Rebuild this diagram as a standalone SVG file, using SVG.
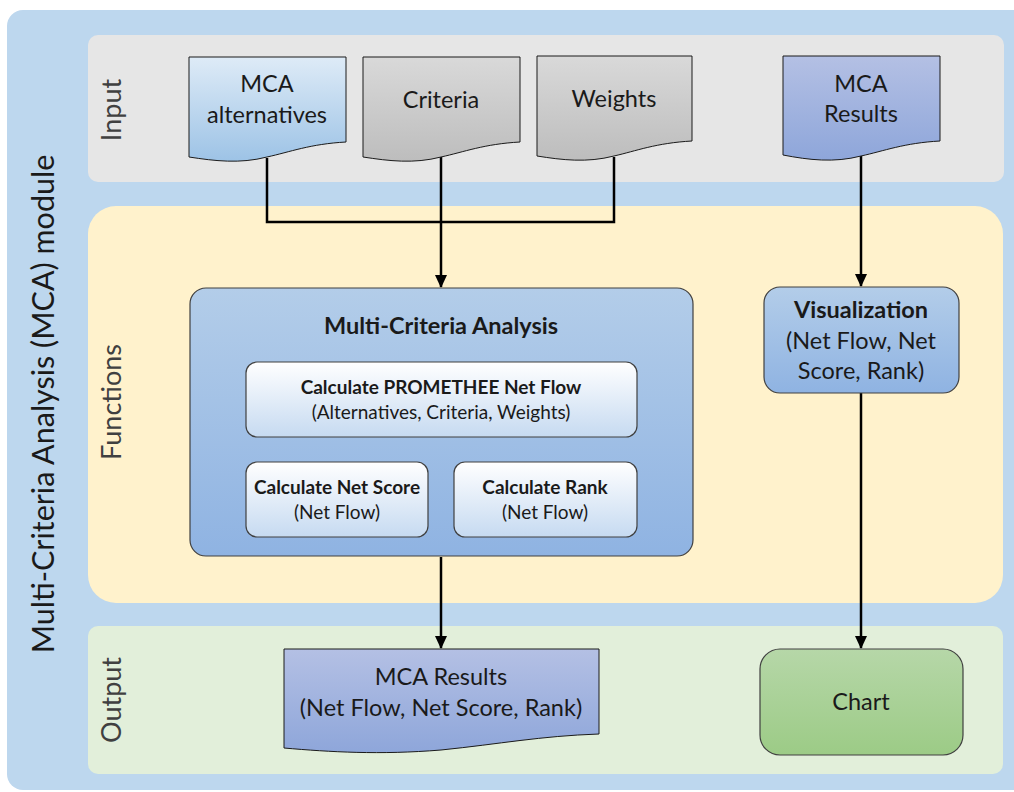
<svg xmlns="http://www.w3.org/2000/svg" width="1014" height="792" viewBox="0 0 1014 792">
<style>
text{font-family:Lato,"Open Sans","Liberation Sans",sans-serif;fill:#1a1a1a;text-anchor:middle}
.lane{font-size:27px;fill:#404040}
.t20{font-size:23.5px}
.t16{font-size:19px}
.b{font-weight:bold}
.doc{stroke:#1a1a1a;stroke-width:1}
.box{stroke:#404040;stroke-width:1.2}
.conn{fill:none;stroke:#000;stroke-width:2.5}
</style>
<defs>
<linearGradient id="gBlueLt" x1="0" y1="0" x2="0" y2="1"><stop offset="0" stop-color="#deebf7"/><stop offset="1" stop-color="#9dc3e6"/></linearGradient>
<linearGradient id="gGray" x1="0" y1="0" x2="0" y2="1"><stop offset="0" stop-color="#d9d9d9"/><stop offset="1" stop-color="#bdbdbd"/></linearGradient>
<linearGradient id="gPurp" x1="0" y1="0" x2="0" y2="1"><stop offset="0" stop-color="#b4c0e4"/><stop offset="1" stop-color="#8ea6da"/></linearGradient>
<linearGradient id="gBlue" x1="0" y1="0" x2="0" y2="1"><stop offset="0" stop-color="#b3cde9"/><stop offset="1" stop-color="#8fb3e2"/></linearGradient>
<linearGradient id="gWhite" x1="0" y1="0" x2="0" y2="1"><stop offset="0" stop-color="#ffffff"/><stop offset="1" stop-color="#c6daf1"/></linearGradient>
<linearGradient id="gGreen" x1="0" y1="0" x2="0" y2="1"><stop offset="0" stop-color="#b6d7a8"/><stop offset="1" stop-color="#9ccb86"/></linearGradient>
<marker id="arr" markerUnits="userSpaceOnUse" markerWidth="14" markerHeight="14" viewBox="0 0 14 14" refX="12" refY="7" orient="auto">
<path d="M0,1 L13,7 L0,13 Z" fill="#000"/>
</marker>
</defs>

<g id="background">
<rect x="7" y="10" width="1030" height="780" rx="16" fill="#bdd7ee"/>
<rect x="88" y="35" width="916" height="147" rx="10" fill="#e6e6e6"/>
<rect x="88" y="206" width="915" height="397" rx="28" fill="#fff2cc"/>
<rect x="88" y="626" width="915" height="148" rx="10" fill="#e2efda"/>
<text transform="translate(54,404) rotate(-90)" style="font-size:30.5px;fill:#1a1a1a">Multi-Criteria Analysis (MCA) module</text>
<text class="lane" transform="translate(121,110) rotate(-90)">Input</text>
<text class="lane" transform="translate(121,402) rotate(-90)">Functions</text>
<text class="lane" transform="translate(121,700) rotate(-90)">Output</text>
</g>

<g id="connectors">
<path class="conn" d="M267,158 V222 H614 V157"/>
<path class="conn" d="M441,157 V287" marker-end="url(#arr)"/>
<path class="conn" d="M861,156 V286" marker-end="url(#arr)"/>
<path class="conn" d="M337,437 V461" marker-end="url(#arr)"/>
<path class="conn" d="M545,437 V461" marker-end="url(#arr)"/>
<path class="conn" d="M441,557 V648" marker-end="url(#arr)"/>
<path class="conn" d="M861,393 V648" marker-end="url(#arr)"/>
</g>

<g id="mca-alternatives">
<path class="doc" fill="url(#gBlueLt)" d="M189,57 H346 V142 C310,144 290,152 267,157 C240,164 215,161 189,157 Z"/>
<text class="t20" x="267" y="92">MCA</text>
<text class="t20" x="267" y="123">alternatives</text>
</g>

<g id="criteria">
<path class="doc" fill="url(#gGray)" d="M363,57 H520 V142 C484,144 464,152 441,157 C414,164 389,161 363,157 Z"/>
<text class="t20" x="441" y="108">Criteria</text>
</g>

<g id="weights">
<path class="doc" fill="url(#gGray)" d="M537,56 H692 V141 C656,143 636,151 614,156 C587,163 562,160 537,156 Z"/>
<text class="t20" x="614" y="107">Weights</text>
</g>

<g id="mca-results-input">
<path class="doc" fill="url(#gPurp)" d="M783,56 H940 V141 C904,143 884,151 861,156 C834,163 809,160 783,155 Z"/>
<text class="t20" x="861" y="92">MCA</text>
<text class="t20" x="861" y="122">Results</text>
</g>

<g id="multi-criteria-analysis">
<rect class="box" x="190" y="288" width="503" height="268" rx="16" fill="url(#gBlue)"/>
<text class="t20 b" x="441" y="334">Multi-Criteria Analysis</text>
</g>

<g id="promethee">
<rect class="box" x="246" y="362" width="391" height="75" rx="11" fill="url(#gWhite)"/>
<text class="t16 b" x="441" y="394">Calculate PROMETHEE Net Flow</text>
<text class="t16" x="441" y="419">(Alternatives, Criteria, Weights)</text>
</g>

<g id="net-score">
<rect class="box" x="246" y="462" width="182" height="75" rx="11" fill="url(#gWhite)"/>
<text class="t16 b" x="337" y="494">Calculate Net Score</text>
<text class="t16" x="337" y="519">(Net Flow)</text>
</g>

<g id="rank">
<rect class="box" x="454" y="462" width="183" height="75" rx="11" fill="url(#gWhite)"/>
<text class="t16 b" x="545" y="494">Calculate Rank</text>
<text class="t16" x="545" y="519">(Net Flow)</text>
</g>

<g id="visualization">
<rect class="box" x="764" y="287" width="195" height="106" rx="16" fill="url(#gBlue)"/>
<text class="t20 b" x="861" y="318">Visualization</text>
<text class="t20" x="861" y="349">(Net Flow, Net</text>
<text class="t20" x="861" y="379">Score, Rank)</text>
</g>

<g id="mca-results-output">
<path class="doc" fill="url(#gPurp)" d="M284,649 H599 V734 C540,736 500,744 441,750 C380,755 330,752 284,748 Z"/>
<text class="t20" x="441" y="685">MCA Results</text>
<text class="t20" x="441" y="716">(Net Flow, Net Score, Rank)</text>
</g>

<g id="chart">
<rect class="box" x="760" y="649" width="203" height="106" rx="20" fill="url(#gGreen)"/>
<text class="t20" x="861" y="710">Chart</text>
</g>
</svg>
